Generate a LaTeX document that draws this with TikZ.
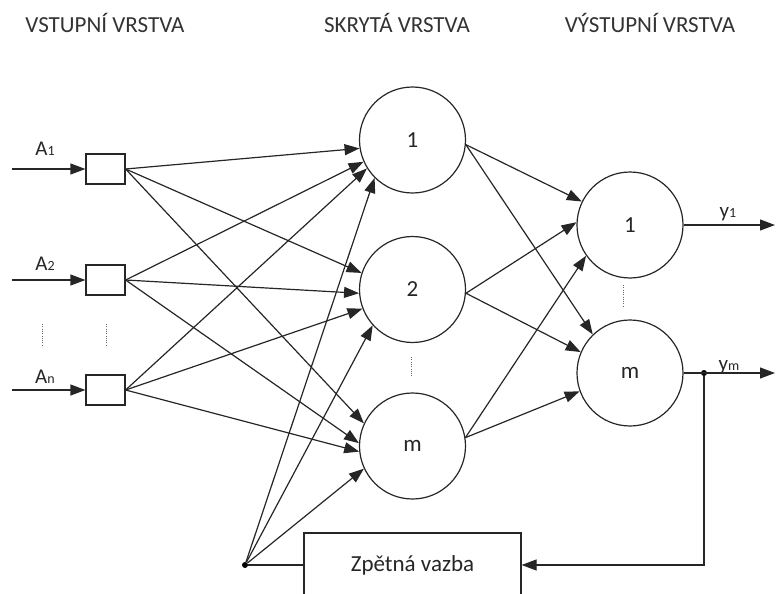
\documentclass[tikz,border=0pt]{standalone}
\usepackage{fontspec}
\setmainfont{Carlito}
\usetikzlibrary{arrows.meta}
\newcommand{\subsz}{\fontsize{14}{16}\selectfont}
\begin{document}
\begin{tikzpicture}[x=1pt,y=-1pt,
  wire/.style={line width=1.2pt, draw=black!85},
  arr/.style={wire,-{Triangle[length=15pt,width=11pt]}},
  neuron/.style={circle,draw=black!85,line width=1.2pt,minimum size=106pt,inner sep=0pt,text=black!85,font=\fontsize{23}{27}\selectfont},
  inbox/.style={draw=black!85,line width=1.2pt,minimum width=39pt,minimum height=30pt,inner sep=0pt},
  fbbox/.style={draw=black!85,line width=1.2pt,minimum width=217pt,minimum height=64pt,inner sep=0pt,text=black!85,font=\fontsize{23}{27}\selectfont},
  title/.style={anchor=base,inner sep=0pt,font=\fontsize{23}{27}\selectfont,text=black!80},
  lbl/.style={anchor=base,inner sep=0pt,font=\fontsize{21}{24}\selectfont,text=black!85},
  dotline/.style={line width=1pt,dash pattern=on 1pt off 1.3pt,draw=black!60},
  junction/.style={circle,fill=black,inner sep=0pt,minimum size=6pt}]
\useasboundingbox (0,0) rectangle (780,594);

% titles
\node[title] (t1) at (105,33) {VSTUPNÍ VRSTVA};
\node[title] (t2) at (397,33) {SKRYTÁ VRSTVA};
\node[title] (t3) at (650,33) {VÝSTUPNÍ VRSTVA};

% input boxes
\node[inbox] (i1) at (105.5,169) {};
\node[inbox] (i2) at (105.5,280) {};
\node[inbox] (i3) at (105.5,390) {};
\coordinate (s1) at (12,169);
\coordinate (s2) at (12,280);
\coordinate (s3) at (12,390);
\draw[arr] (s1) -- (i1.west);
\draw[arr] (s2) -- (i2.west);
\draw[arr] (s3) -- (i3.west);
\node[lbl] (a1) at (45,155) {A{\subsz 1}};
\node[lbl] (a2) at (45,270) {A{\subsz 2}};
\node[lbl] (an) at (45,383) {A{\subsz n}};

% hidden neurons
\node[neuron] (h1) at (412.5,140) {1};
\node[neuron] (h2) at (412.5,289.5) {2};
\node[neuron] (hm) at (412.5,446) {m};

% output neurons
\node[neuron] (o1) at (630,225) {1};
\node[neuron] (om) at (630,373) {m};

% feedback
\node[fbbox] (fb) at (412.5,565) {Zpětná vazba};
\node[junction] (d) at (245,565) {};
\node[junction] (j) at (704,373) {};

% dotted ellipses
\draw[dotline] (42,324) -- (42,347);
\draw[dotline] (106,324) -- (106,347);
\draw[dotline] (411,357) -- (411,377);
\draw[dotline] (623,285) -- (623,307);

% input -> hidden
\draw[arr] (i1.east) -- (h1.189);
\draw[arr] (i1.east) -- (h2.162);
\draw[arr] (i1.east) -- (hm.155);
\draw[arr] (i2.east) -- (h1.204);
\draw[arr] (i2.east) -- (h2.184);
\draw[arr] (i2.east) -- (hm.177);
\draw[arr] (i3.east) -- (h1.212);
\draw[arr] (i3.east) -- (h2.201);
\draw[arr] (i3.east) -- (hm.186);

% feedback -> hidden
\draw[arr] (d) -- (h1.225);
\draw[arr] (d) -- (h2.222);
\draw[arr] (d) -- (hm.205);

% hidden -> output
\draw[arr] (h1.355) -- (o1.154);
\draw[arr] (h1.355) -- (om.134);
\draw[arr] (h2.356) -- (o1.177);
\draw[arr] (h2.356) -- (om.157);
\draw[arr] (hm.9) -- (o1.215);
\draw[arr] (hm.9) -- (om.200);

% outputs
\coordinate (e1) at (775,225);
\coordinate (em) at (775,373);
\draw[arr] (o1.east) -- (e1);
\draw[arr] (om.east) -- (em);
\node[lbl] (y1) at (728,217) {y{\subsz 1}};
\node[lbl] (ym) at (729,370) {y{\subsz m}};

% feedback loop
\draw[arr] (j) |- (fb.east);
\draw[wire] (fb.west) -- (d);
\end{tikzpicture}
\end{document}
